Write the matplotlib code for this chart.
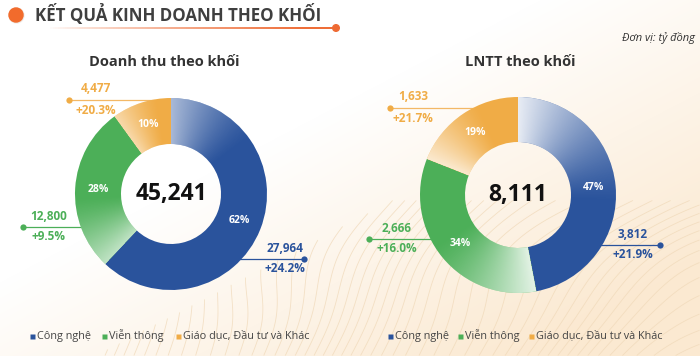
import numpy as np
import matplotlib.pyplot as plt
from matplotlib.colors import to_rgb
from matplotlib.patches import Circle
from matplotlib.collections import LineCollection

# ---------------- data ----------------
categories = ['Công nghệ', 'Viễn thông', 'Giáo dục, Đầu tư và Khác']
revenue = [27964, 12800, 4477]
revenue_share = [62, 28, 10]
revenue_growth = ['+24.2%', '+9.5%', '+20.3%']
revenue_total = '45,241'
profit = [3812, 2666, 1633]
profit_share = [47, 34, 19]
profit_growth = ['+21.9%', '+16.0%', '+21.7%']
profit_total = '8,111'

colors = ['#2a539c', '#4caf58', '#f0ac46']
line_colors = ['#2a539c', '#4caf58', '#f3b866']

FONT = ['Open Sans', 'DejaVu Sans']
plt.rcParams['font.family'] = FONT

W, H = 700, 356
fig = plt.figure(figsize=(7, 3.56), dpi=100)
ax = fig.add_axes([0, 0, 1, 1])


def Y(y):
    return H - y


# ---------------- background ----------------
xx, yy = np.meshgrid(np.arange(W) + 0.5, np.arange(H) + 0.5)
t = np.clip((xx - 330) / 370 * 0.55 + (yy - 110) / 246 * 0.7, 0, 1)
cream = np.array(to_rgb('#fbe9d1'))
bg = 1 - t[..., None] * (1 - cream)
ax.imshow(bg, extent=(0, W, 0, H), origin='upper', zorder=0, aspect='auto')
f = np.hypot(xx - 780, yy - 470) + 9 * np.sin(xx / 38 + yy / 50) + 5 * np.sin(yy / 23)
f = np.ma.masked_where((t < 0.35) | (yy < 200), f)
ax.contour(xx, H - yy, f, levels=np.arange(0, 900, 11), colors='#f0d9b9',
           linewidths=0.6, alpha=0.75, zorder=0.5)


# ---------------- donuts ----------------
def donut(cx, cy, r, width, shares, values, growth, total, fades, callouts):
    wedges, _, autotexts = ax.pie(
        shares, colors=colors, startangle=90, counterclock=False, radius=r,
        center=(cx, Y(cy)), frame=True,
        wedgeprops=dict(width=width, edgecolor='none', linewidth=0),
        autopct=lambda p: f'{p:.0f}%', pctdistance=(r - width / 2) / r,
        textprops=dict(color='white', fontsize=7.5, fontweight='bold'))
    for w in wedges:
        w.set_zorder(2)
    for a in autotexts:
        a.set_zorder(5)
    ang = np.degrees(np.arctan2((H - yy) - Y(cy), xx - cx))
    for w, (a0, span) in zip(wedges, fades):
        d = (w.theta2 - ang) % 360
        alpha = a0 * np.clip(1 - d / span, 0, 1) ** 1.3
        img = np.ones((H, W, 4))
        img[..., 3] = alpha
        im = ax.imshow(img, extent=(0, W, 0, H), origin='upper', zorder=3, aspect='auto')
        im.set_clip_path(w)
    ax.text(cx, Y(cy), total, ha='center', va='center', fontsize=16.5,
            fontweight='bold', color='#111111', zorder=6)
    for i, (dot_x, ly, tx) in enumerate(callouts):
        dy = ly - cy
        side = np.sign(dot_x - cx)
        x_edge = cx + side * (np.sqrt(max(r * r - dy * dy, 0)) - 2)
        ax.plot([dot_x, x_edge], [Y(ly), Y(ly)], color=line_colors[i], lw=0.9, zorder=1.5)
        ax.plot(dot_x, Y(ly), 'o', color=colors[i], ms=4.5, mec='none', zorder=1.6)
        ax.text(tx, Y(ly - 11), f'{values[i]:,}', ha='center', va='center',
                fontsize=8.5, fontweight='bold', color=colors[i], zorder=6)
        ax.text(tx, Y(ly + 10), growth[i], ha='center', va='center',
                fontsize=8.5, fontweight='bold', color=colors[i], zorder=6)


donut(171, 194, 96, 46, revenue_share, revenue, revenue_growth, revenue_total,
      fades=[(0.6, 55), (0.65, 45), (0.55, 28)],
      callouts=[(304, 259, 285), (23, 227, 49), (69, 100, 96)])
donut(518, 195, 98, 45, profit_share, profit, profit_growth, profit_total,
      fades=[(0.9, 95), (0.85, 70), (0.75, 45)],
      callouts=[(660, 245, 633), (369, 239, 397), (390, 108, 413)])

# ---------------- header ----------------
ax.add_patch(Circle((16.5, Y(15.5)), 7.5, color='#e4dcd6', alpha=0.5, zorder=6))
ax.add_patch(Circle((16, Y(15)), 7, color='#f26b2c', zorder=7))
ax.text(35, Y(14.5), 'KẾT QUẢ KINH DOANH THEO KHỐI', ha='left', va='center',
        fontsize=12.2, fontweight='bold', color='#3f3f3f', zorder=7)
xs = np.linspace(48, 336, 120)
segs = [[(xs[k], Y(28)), (xs[k + 1], Y(28))] for k in range(len(xs) - 1)]
base = np.array(to_rgb('#ee6a33'))
seg_cols = [(*base, min(1, (k / (len(xs) - 1)) ** 0.8 * 1.1)) for k in range(len(xs) - 1)]
ax.add_collection(LineCollection(segs, colors=seg_cols, linewidths=1.4, zorder=7))
ax.add_patch(Circle((336, Y(28)), 3.3, color='#ee6a33', zorder=8))
ax.text(695, Y(38), 'Đơn vị: tỷ đồng', ha='right', va='center', fontsize=8,
        style='italic', color='#333333', zorder=7)

ax.text(164, Y(62), 'Doanh thu theo khối', ha='center', va='center', fontsize=10.5,
        fontweight='bold', color='#333333', zorder=7)
ax.text(520, Y(62), 'LNTT theo khối', ha='center', va='center', fontsize=10.5,
        fontweight='bold', color='#333333', zorder=7)

# ---------------- legends ----------------
for marker_xs in ([32, 104, 178], [390, 460, 531]):
    for i, mx in enumerate(marker_xs):
        ax.plot(mx, Y(336), 's', color=colors[i], ms=3.6, mec='none', zorder=7)
        ax.text(mx + 5, Y(336), categories[i], ha='left', va='center', fontsize=7.8,
                color='#444444', zorder=7)

ax.set_xlim(0, W)
ax.set_ylim(0, H)
ax.set_aspect('auto')
ax.axis('off')
fig.savefig('out.png', dpi=100)
